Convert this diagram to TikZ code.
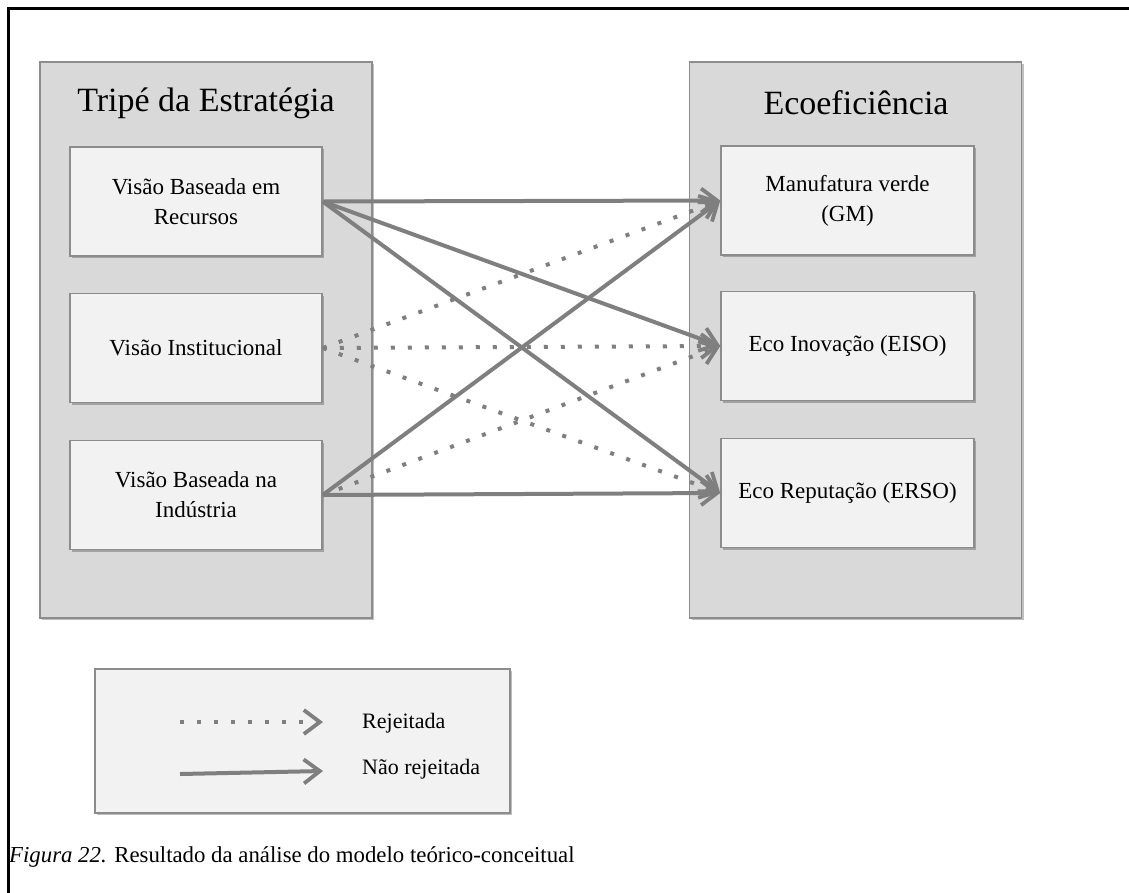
\documentclass[tikz,border=0pt]{standalone}
\usepackage{fontspec}
\setmainfont{Liberation Serif}
\usetikzlibrary{arrows.meta,shadows}
\definecolor{groupfill}{HTML}{D9D9D9}
\definecolor{boxfill}{HTML}{F2F2F2}
\definecolor{edgegray}{HTML}{8C8C8C}
\definecolor{linkgray}{HTML}{7F7F7F}
\tikzset{
  group/.style={draw=edgegray, line width=1.5pt, fill=groupfill, minimum width=332pt, minimum height=556pt,
    inner sep=0pt, drop shadow={shadow xshift=2pt, shadow yshift=-2pt, opacity=0.25, fill=black}},
  itembox/.style={draw=edgegray, line width=1.5pt, fill=boxfill, minimum width=252pt, minimum height=109pt,
    align=center, inner sep=0pt, font=\fontsize{23}{27}\selectfont,
    drop shadow={shadow xshift=2pt, shadow yshift=-2pt, opacity=0.25, fill=black}},
  grouptitle/.style={font=\fontsize{34}{40}\selectfont, inner sep=0pt},
  tip/.style={-{Straight Barb[length=16pt,width=24pt,line width=3.8pt]}},
  accepted/.style={tip, draw=linkgray, line width=4pt},
  rejected/.style={tip, draw=linkgray, line width=4pt, dash pattern=on 4pt off 13pt},
  legendtext/.style={font=\fontsize{22}{26}\selectfont, anchor=west, inner sep=0pt},
}
\begin{document}
\begin{tikzpicture}[x=1pt,y=-1pt]
\useasboundingbox (0,0) rectangle (1129,892);

% frame lines on the top and the left
\coordinate (fr1) at (1129,8);
\coordinate (fr2) at (8,8);
\coordinate (fr3) at (8,892);
\draw[line width=3pt, line cap=rect] (fr1) -- (fr2) -- (fr3);

% groups
\node[group] (strat) at (206,340) {};
\node[group] (eco) at (855.5,340) {};
\node[grouptitle] (strattitle) at (206,103) {Tripé da Estratégia};
\node[grouptitle] (ecotitle) at (856,103) {Ecoeficiência};

% strategy views
\node[itembox] (vbr) at (196,201.5) {Visão Baseada em\\[3pt]Recursos};
\node[itembox] (vi) at (196,348) {Visão Institucional};
\node[itembox] (vbi) at (196,495) {Visão Baseada na\\[3pt]Indústria};

% eco-efficiency dimensions
\node[itembox, minimum width=253pt] (gm) at (847.5,200.5) {Manufatura verde\\[3pt](GM)};
\node[itembox, minimum width=253pt] (eiso) at (847.5,346) {Eco Inovação (EISO)};
\node[itembox, minimum width=253pt] (erso) at (847.5,493) {Eco Reputação (ERSO)};

% rejected relations
\draw[rejected] (vi.east) -- (gm.west);
\draw[rejected] (vi.east) -- (eiso.west);
\draw[rejected] (vi.east) -- (erso.west);
\draw[rejected] (vbi.east) -- (eiso.west);

% relations that were not rejected
\draw[accepted] (vbr.east) -- (gm.west);
\draw[accepted] (vbr.east) -- (eiso.west);
\draw[accepted] (vbr.east) -- (erso.west);
\draw[accepted] (vbi.east) -- (gm.west);
\draw[accepted] (vbi.east) -- (erso.west);

% legend
\node[draw=edgegray, line width=1.5pt, fill=boxfill, minimum width=415pt, minimum height=144pt, inner sep=0pt,
  drop shadow={shadow xshift=2pt, shadow yshift=-2pt, opacity=0.25, fill=black}] (legend) at (302.5,741) {};
\coordinate (r0) at (180,722);
\coordinate (r1) at (323,722);
\coordinate (a0) at (180,774);
\coordinate (a1) at (323,771);
\draw[rejected] (r0) -- (r1);
\draw[accepted] (a0) -- (a1);
\node[legendtext] (rlabel) at (362,723) {Rejeitada};
\node[legendtext] (alabel) at (362,769) {Não rejeitada};

% caption
\node[font=\fontsize{22.8}{26}\selectfont, anchor=west, inner sep=0pt] (caption) at (9,857)
  {\textit{Figura 22.} Resultado da análise do modelo teórico-conceitual};
\end{tikzpicture}
\end{document}
